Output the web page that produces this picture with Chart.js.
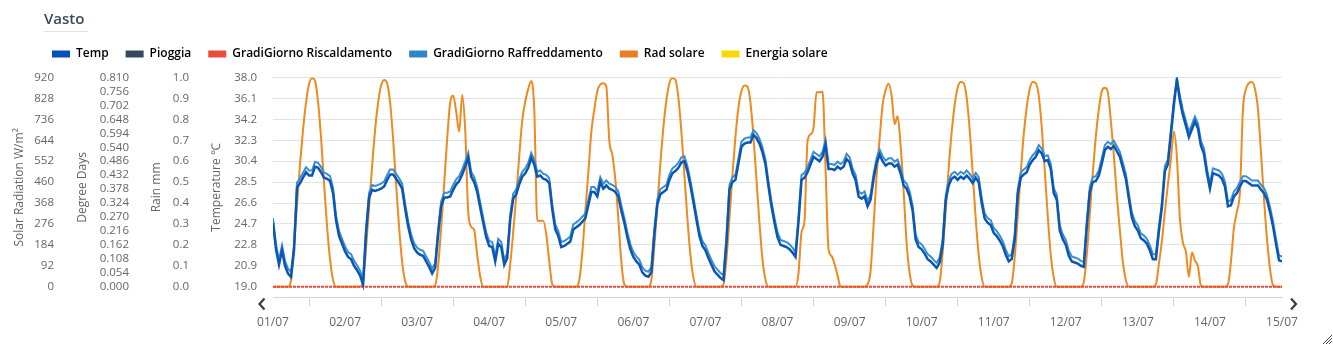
<!DOCTYPE html>
<html>
<head>
<meta charset="utf-8">
<script src="https://cdn.jsdelivr.net/npm/chart.js@4.4.0/dist/chart.umd.min.js"></script>
<style>
  html, body { margin: 0; padding: 0; background: #fff; }
  #wrap { position: relative; width: 1333px; height: 345px; }
  #place {
    position: absolute; left: 44px; top: 8px;
    font: 600 15px/20px 'Open Sans', sans-serif; color: #3b4754;
    padding: 0 4px 3px 0; border-bottom: 1px solid #dfe3e8;
  }
</style>
</head>
<body>
<div id="wrap">
  <canvas id="meteo-chart"></canvas>
  <div id="place">Vasto</div>
</div>
<script>
// days shown on the time axis (one tick every 24 h)
const dayLabels = ['01/07', '02/07', '03/07', '04/07', '05/07', '06/07', '07/07', '08/07',
  '09/07', '10/07', '11/07', '12/07', '13/07', '14/07', '15/07'];

// air temperature, °C, hourly from 01/07 00:00 (one row per day)
const temperature = [
  24.8, 22.4, 21.0, 22.3, 20.9, 20.2, 19.9, 22.3, 28.0, 28.4, 28.9, 29.4, 29.1, 29.1, 29.9, 29.8, 29.4, 28.9, 28.8, 28.6, 27.5, 25.0, 23.6, 22.9,
  22.2, 21.7, 21.5, 20.9, 20.5, 20.0, 19.2, 23.9, 27.1, 27.8, 27.7, 27.8, 27.9, 28.1, 28.7, 29.2, 29.2, 28.8, 28.4, 27.9, 26.1, 24.5, 23.3, 22.5,
  22.1, 21.9, 21.8, 21.3, 20.8, 20.2, 20.7, 23.8, 26.3, 27.1, 27.1, 27.2, 27.8, 28.3, 28.6, 29.2, 29.9, 30.7, 29.0, 28.5, 27.6, 26.2, 24.8, 23.5,
  22.7, 22.6, 21.3, 22.9, 22.6, 21.0, 21.6, 25.1, 27.0, 27.4, 28.3, 29.0, 29.3, 29.8, 30.7, 30.1, 29.0, 29.1, 28.8, 28.7, 28.4, 26.0, 24.2, 23.6,
  22.6, 22.7, 22.9, 23.1, 24.2, 24.4, 24.6, 24.9, 25.2, 26.4, 27.6, 27.6, 27.2, 28.5, 27.9, 28.2, 27.9, 27.8, 27.6, 27.2, 25.9, 24.8, 23.5, 22.4,
  21.7, 21.3, 21.0, 20.3, 20.0, 19.9, 20.3, 23.8, 26.5, 27.4, 27.6, 27.8, 28.7, 29.3, 29.5, 29.8, 30.3, 30.4, 29.5, 28.2, 26.7, 25.1, 23.6, 22.7,
  22.3, 21.6, 21.0, 20.4, 20.1, 19.8, 19.6, 23.0, 27.8, 28.5, 28.7, 30.2, 31.7, 32.0, 32.1, 32.1, 32.8, 32.5, 32.0, 31.2, 30.1, 28.1, 26.3, 24.8,
  23.5, 22.8, 22.7, 22.6, 22.4, 22.1, 21.7, 24.9, 28.7, 28.9, 29.4, 30.1, 30.8, 30.6, 30.4, 30.8, 31.9, 29.7, 29.7, 29.6, 29.9, 29.7, 29.9, 30.6,
  30.3, 29.3, 28.7, 27.2, 27.0, 27.2, 26.3, 26.9, 28.8, 30.2, 31.0, 30.4, 30.0, 30.2, 30.2, 29.9, 30.1, 29.3, 28.2, 27.9, 27.2, 25.9, 23.3, 22.6,
  22.4, 22.0, 21.5, 21.3, 21.0, 20.7, 21.2, 22.8, 26.8, 28.2, 28.8, 29.0, 28.7, 29.0, 28.8, 29.1, 28.8, 28.4, 28.9, 28.5, 26.6, 25.2, 24.8, 24.6,
  23.9, 23.6, 23.2, 22.7, 21.9, 21.3, 21.5, 23.3, 27.4, 28.9, 29.2, 29.4, 30.1, 30.5, 30.8, 31.4, 31.1, 30.4, 30.5, 29.7, 27.5, 26.9, 24.1, 23.3,
  22.8, 21.8, 21.3, 21.2, 21.1, 20.9, 20.8, 24.5, 27.6, 28.5, 28.6, 29.1, 30.2, 31.4, 31.7, 31.5, 31.8, 31.3, 30.8, 29.8, 28.8, 27.0, 25.3, 24.5,
  24.1, 23.4, 23.2, 22.9, 22.3, 21.5, 21.5, 24.0, 26.2, 29.5, 30.1, 32.8, 35.5, 37.8, 35.9, 34.6, 33.6, 32.6, 33.3, 34.0, 33.4, 31.8, 31.1, 29.3,
  27.9, 29.3, 29.2, 29.1, 28.8, 28.1, 26.3, 26.4, 27.2, 27.5, 28.1, 28.6, 28.6, 28.4, 28.2, 28.2, 28.2, 27.8, 27.5, 26.9, 25.8, 24.5, 22.9, 21.4,
  21.3
];

// cooling degree days, hourly
const coolingDegreeDays = [
  0.266, 0.164, 0.104, 0.160, 0.100, 0.070, 0.058, 0.160, 0.403, 0.420, 0.441, 0.463, 0.450, 0.450, 0.484, 0.480, 0.463, 0.441, 0.437, 0.428, 0.382, 0.275, 0.215, 0.185,
  0.156, 0.134, 0.126, 0.100, 0.083, 0.062, 0.028, 0.228, 0.364, 0.394, 0.390, 0.394, 0.399, 0.407, 0.433, 0.454, 0.454, 0.437, 0.420, 0.399, 0.322, 0.254, 0.202, 0.168,
  0.151, 0.143, 0.139, 0.117, 0.096, 0.070, 0.092, 0.224, 0.330, 0.364, 0.364, 0.369, 0.394, 0.416, 0.428, 0.454, 0.484, 0.518, 0.445, 0.424, 0.386, 0.326, 0.266, 0.211,
  0.177, 0.173, 0.117, 0.185, 0.173, 0.104, 0.130, 0.279, 0.360, 0.377, 0.416, 0.445, 0.458, 0.480, 0.518, 0.492, 0.445, 0.450, 0.437, 0.433, 0.420, 0.318, 0.241, 0.215,
  0.173, 0.177, 0.185, 0.194, 0.241, 0.249, 0.258, 0.271, 0.283, 0.335, 0.386, 0.386, 0.369, 0.424, 0.399, 0.411, 0.399, 0.394, 0.386, 0.369, 0.313, 0.266, 0.211, 0.164,
  0.134, 0.117, 0.104, 0.075, 0.062, 0.058, 0.075, 0.224, 0.339, 0.377, 0.386, 0.394, 0.433, 0.458, 0.467, 0.480, 0.501, 0.505, 0.467, 0.411, 0.347, 0.279, 0.215, 0.177,
  0.160, 0.130, 0.104, 0.079, 0.066, 0.053, 0.045, 0.190, 0.394, 0.424, 0.433, 0.497, 0.561, 0.573, 0.578, 0.578, 0.607, 0.595, 0.573, 0.539, 0.492, 0.407, 0.330, 0.266,
  0.211, 0.181, 0.177, 0.173, 0.164, 0.151, 0.134, 0.271, 0.433, 0.441, 0.463, 0.492, 0.522, 0.514, 0.505, 0.522, 0.569, 0.475, 0.475, 0.471, 0.484, 0.475, 0.484, 0.514,
  0.501, 0.458, 0.433, 0.369, 0.360, 0.369, 0.330, 0.356, 0.437, 0.497, 0.531, 0.505, 0.488, 0.497, 0.497, 0.484, 0.492, 0.458, 0.411, 0.399, 0.369, 0.313, 0.202, 0.173,
  0.164, 0.147, 0.126, 0.117, 0.104, 0.092, 0.113, 0.181, 0.352, 0.411, 0.437, 0.445, 0.433, 0.445, 0.437, 0.450, 0.437, 0.420, 0.441, 0.424, 0.343, 0.283, 0.266, 0.258,
  0.228, 0.215, 0.198, 0.177, 0.143, 0.117, 0.126, 0.202, 0.377, 0.441, 0.454, 0.463, 0.492, 0.509, 0.522, 0.548, 0.535, 0.505, 0.509, 0.475, 0.382, 0.356, 0.237, 0.202,
  0.181, 0.139, 0.117, 0.113, 0.109, 0.100, 0.096, 0.254, 0.386, 0.424, 0.428, 0.450, 0.497, 0.548, 0.561, 0.552, 0.565, 0.544, 0.522, 0.480, 0.437, 0.360, 0.288, 0.254,
  0.237, 0.207, 0.198, 0.185, 0.160, 0.126, 0.126, 0.232, 0.326, 0.467, 0.492, 0.607, 0.723, 0.807, 0.740, 0.684, 0.642, 0.599, 0.629, 0.659, 0.633, 0.565, 0.535, 0.458,
  0.399, 0.458, 0.454, 0.450, 0.437, 0.407, 0.330, 0.335, 0.369, 0.382, 0.407, 0.428, 0.428, 0.420, 0.411, 0.411, 0.411, 0.394, 0.382, 0.356, 0.309, 0.254, 0.185, 0.121,
  0.117
];

// heating degree days and rain, one value per day
const heatingDegreeDays = [0, 0, 0, 0, 0, 0, 0, 0, 0, 0, 0, 0, 0, 0, 0];
const rainfall = [0, 0, 0, 0, 0, 0, 0, 0, 0, 0, 0, 0, 0, 0, 0];

// solar radiation, W/m², hourly
const solarRadiation = [
  0, 0, 0, 0, 0, 0, 30, 180, 360, 540, 690, 810, 890, 918, 905, 814, 655, 455, 265, 120, 30, 0, 0, 0,
  0, 0, 0, 0, 0, 0, 25, 170, 350, 530, 690, 810, 885, 909, 895, 810, 650, 450, 260, 110, 25, 0, 0, 0,
  0, 0, 0, 0, 0, 0, 5, 95, 260, 450, 650, 810, 840, 770, 682, 843, 690, 330, 264, 249, 140, 45, 0, 0,
  0, 0, 0, 0, 0, 0, 0, 100, 242, 400, 575, 730, 815, 870, 905, 780, 290, 290, 290, 230, 110, 10, 0, 0,
  0, 0, 0, 0, 0, 0, 30, 150, 330, 500, 680, 780, 860, 890, 895, 880, 640, 580, 470, 300, 110, 10, 0, 0,
  0, 0, 0, 0, 0, 0, 30, 180, 360, 540, 700, 820, 895, 918, 910, 830, 680, 490, 300, 140, 40, 0, 0, 0,
  0, 0, 0, 0, 0, 0, 10, 120, 300, 490, 660, 790, 860, 885, 880, 810, 660, 470, 280, 120, 30, 0, 0, 0,
  0, 0, 0, 0, 0, 0, 0, 60, 240, 290, 640, 670, 700, 855, 855, 858, 520, 165, 135, 100, 50, 0, 0, 0,
  0, 0, 0, 0, 0, 0, 10, 70, 271, 490, 650, 800, 865, 893, 840, 715, 750, 620, 420, 190, 60, 5, 0, 0,
  0, 0, 0, 0, 0, 0, 20, 150, 330, 520, 680, 800, 875, 900, 895, 830, 690, 500, 300, 140, 40, 0, 0, 0,
  0, 0, 0, 0, 0, 0, 15, 130, 310, 500, 670, 790, 870, 900, 895, 840, 700, 510, 310, 140, 40, 0, 0, 0,
  0, 0, 0, 0, 0, 0, 20, 140, 320, 500, 660, 780, 860, 875, 855, 730, 580, 400, 250, 110, 30, 0, 0, 0,
  0, 0, 0, 0, 0, 0, 10, 100, 200, 330, 450, 560, 682, 570, 300, 195, 154, 44, 150, 115, 90, 5, 0, 0,
  0, 0, 0, 0, 0, 0, 10, 110, 260, 330, 420, 780, 870, 895, 900, 870, 780, 590, 388, 210, 80, 7, 0, 0,
  0
];

// no solar energy readings in this period
const solarEnergy = [];

// tick values of the four value axes
const radiationTicks = [0, 92, 184, 276, 368, 460, 552, 644, 736, 828, 920];
const degreeDayTicks = [0, 0.054, 0.108, 0.162, 0.216, 0.270, 0.324, 0.378,
  0.432, 0.486, 0.540, 0.594, 0.648, 0.702, 0.756, 0.810];
const rainTicks = [0, 0.1, 0.2, 0.3, 0.4, 0.5, 0.6, 0.7, 0.8, 0.9, 1.0];
const temperatureTicks = [19.0, 20.9, 22.8, 24.7, 26.6, 28.5, 30.4, 32.3, 34.2, 36.1, 38.0];

Chart.defaults.font.family = "'Open Sans', sans-serif";

// share of each axis left empty under its first tick, so the time axis sits a bit lower
const FLOOR = 10.6 / 209.2;

function leftAxis(ticks, title, weight, width, titlePad, labelPad, digits, withGrid) {
  const lo = ticks[0];
  const hi = ticks[ticks.length - 1];
  return {
    type: 'linear',
    position: 'left',
    weight,
    min: lo - (hi - lo) * FLOOR,
    max: hi,
    afterBuildTicks: scale => { scale.ticks = ticks.map(value => ({ value })); },
    afterFit: scale => { scale.width = width; },
    ticks: {
      autoSkip: false,
      padding: labelPad,
      color: '#666',
      font: { size: 11.5 },
      callback: v => v.toFixed(digits)
    },
    title: {
      display: true,
      text: title,
      color: '#666',
      font: { size: 12 },
      padding: { top: titlePad, bottom: 0 }
    },
    grid: withGrid
      ? { color: '#e3e3e3', lineWidth: 1, drawTicks: false }
      : { display: false, drawTicks: false },
    border: { display: false }
  };
}

const every = step => (v, i) => ({ x: i * step, y: v });

// nav arrows under the plot and the little resize grip
const decorations = {
  id: 'decorations',
  afterLayout(chart) {
    chart.legend.left = 35;
    chart.legend.top = 31;
  },
  afterDraw(chart) {
    const { ctx, chartArea, width, height } = chart;
    const cy = chartArea.bottom + 6.7;
    ctx.save();
    ctx.strokeStyle = '#2c3e50';
    ctx.lineWidth = 2.2;
    ctx.beginPath();
    ctx.moveTo(chartArea.left - 8.5, cy - 5.5);
    ctx.lineTo(chartArea.left - 13.5, cy);
    ctx.lineTo(chartArea.left - 8.5, cy + 5.5);
    ctx.stroke();
    ctx.beginPath();
    ctx.moveTo(chartArea.right + 9, cy - 5.5);
    ctx.lineTo(chartArea.right + 14, cy);
    ctx.lineTo(chartArea.right + 9, cy + 5.5);
    ctx.stroke();
    ctx.strokeStyle = '#444';
    ctx.lineWidth = 1;
    for (const d of [3, 6, 9]) {
      ctx.beginPath();
      ctx.moveTo(width - d - 1, height - 1);
      ctx.lineTo(width - 1, height - d - 1);
      ctx.stroke();
    }
    ctx.restore();
  }
};

new Chart(document.getElementById('meteo-chart'), {
  type: 'line',
  data: {
    datasets: [
      {
        label: 'Temp',
        data: temperature.map(every(1)),
        yAxisID: 'yTemp',
        borderColor: '#0a56b4',
        legendColor: '#0052b4',
        borderWidth: 2.5,
        pointRadius: 0
      },
      {
        type: 'bar',
        label: 'Pioggia',
        data: rainfall.map(every(24)),
        yAxisID: 'yRain',
        backgroundColor: '#34495e',
        legendColor: '#34495e',
        borderWidth: 0
      },
      {
        label: 'GradiGiorno Riscaldamento',
        data: heatingDegreeDays.map(every(24)),
        yAxisID: 'yDD',
        borderColor: '#e74c3c',
        legendColor: '#e74c3c',
        borderWidth: 2,
        borderDash: [3, 1],
        pointRadius: 0
      },
      {
        label: 'GradiGiorno Raffreddamento',
        data: coolingDegreeDays.map(every(1)),
        yAxisID: 'yDD',
        borderColor: '#3a8ed2',
        legendColor: '#2e86c9',
        borderWidth: 2,
        pointRadius: 0
      },
      {
        label: 'Rad solare',
        data: solarRadiation.map(every(1)),
        yAxisID: 'yRad',
        borderColor: '#ee8a1e',
        legendColor: '#e67e22',
        borderWidth: 2,
        cubicInterpolationMode: 'monotone',
        pointRadius: 0
      },
      {
        label: 'Energia solare',
        data: solarEnergy.map(every(1)),
        yAxisID: 'yRad',
        borderColor: '#ffd700',
        legendColor: '#ffd700',
        borderWidth: 2,
        pointRadius: 0
      }
    ]
  },
  options: {
    responsive: true,
    maintainAspectRatio: false,
    animation: false,
    layout: { padding: { top: 38.5, right: 51, bottom: 11.7, left: 0 } },
    plugins: {
      tooltip: { enabled: false },
      legend: {
        position: 'top',
        align: 'start',
        labels: {
          boxWidth: 18,
          boxHeight: 7,
          padding: 17,
          color: '#111',
          font: { size: 12, weight: '600' },
          generateLabels: chart => chart.data.datasets.map((ds, i) => ({
            text: ds.label,
            fillStyle: ds.legendColor,
            strokeStyle: ds.legendColor,
            lineWidth: 0,
            hidden: false,
            datasetIndex: i
          }))
        }
      }
    },
    scales: {
      x: {
        type: 'linear',
        min: 0,
        max: 336,
        offset: false,
        afterBuildTicks: scale => { scale.ticks = dayLabels.map((_, i) => ({ value: i * 24 })); },
        afterFit: scale => { scale.height = 36; },
        ticks: {
          autoSkip: false,
          maxRotation: 0,
          padding: 9,
          color: '#666',
          font: { size: 12 },
          callback: v => dayLabels[Math.round(v / 24)]
        },
        grid: { drawOnChartArea: false, drawTicks: true, tickLength: 9, color: '#ccd6eb' },
        border: { display: true, color: '#ccd6eb', width: 1 }
      },
      yRad: leftAxis(radiationTicks, 'Solar Radiation W/m²', 4, 60, 12, 6, 0, false),
      yDD: leftAxis(degreeDayTicks, 'Degree Days', 3, 75, 15.8, 6, 3, false),
      yRain: leftAxis(rainTicks, 'Rain mm', 2, 60, 14.8, 6, 1, false),
      yTemp: leftAxis(temperatureTicks, 'Temperature ℃', 1, 78, 14.8, 16, 1, true)
    }
  },
  plugins: [decorations]
});
</script>
</body>
</html>
